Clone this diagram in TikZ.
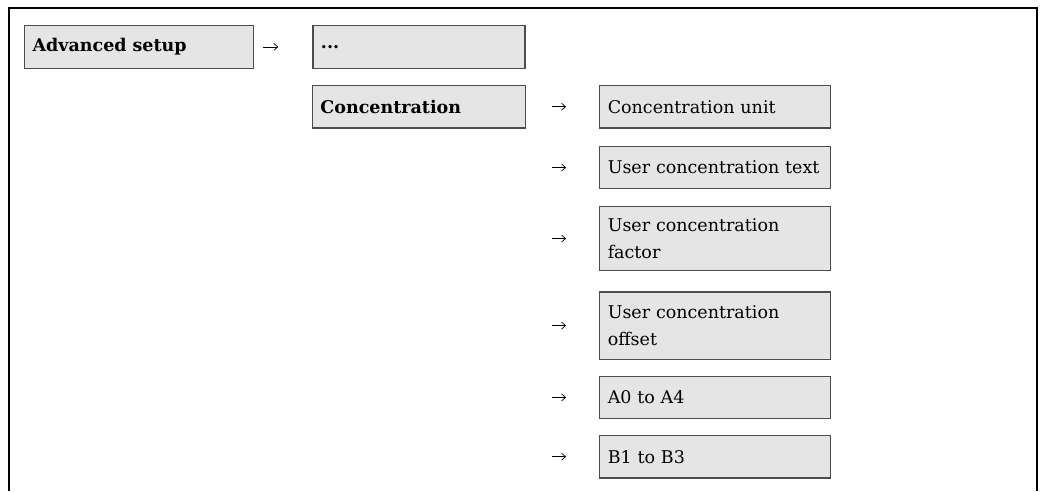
\documentclass[tikz,border=0pt]{standalone}
\usepackage{fontspec}
\setmainfont{DejaVu Serif}
\usepackage{tikz}
\usetikzlibrary{arrows.meta, positioning}

\begin{document}
\begin{tikzpicture}[
        x=1pt, y=1pt,
        node distance=17pt,
        menu/.style={rectangle, draw=black!70, line width=1.3pt, fill=black!10, anchor=north west, inner xsep=8pt, inner ysep=0pt, minimum height=42.5pt, align=left, font=\fontsize{17.5}{27}\selectfont},
        head/.style={menu, font=\fontsize{17.5}{27}\selectfont\bfseries},
        arr/.style={-{Straight Barb[length=4pt, width=7pt]}, line width=0.7pt}
    ]

        \useasboundingbox (0,0) rectangle (1043,-491);

        % --- Frame ---
        \draw[line width=1.3pt] (9,-491) -- (9,-8) -- (1037,-8) -- (1037,-491);

        % --- Left: menu path ---
        \node[head, text width=213pt] (adv) at (24,-25) {Advanced setup};
        \node[head, text width=196pt, anchor=west] (dots) [right=58pt of adv] {...};
        \node[head, text width=197pt, anchor=north] (conc) [below=16pt of dots] {Concentration};

        % --- Right: parameters ---
        \node[menu, text width=215pt, anchor=west] (unit) [right=73pt of conc] {Concentration unit};
        \node[menu, text width=215pt, anchor=north] (utext) [below=of unit] {User concentration text};
        \node[menu, text width=215pt, anchor=north, minimum height=64pt] (ufactor) [below=16.5pt of utext] {User concentration\\factor};
        \node[menu, text width=215pt, anchor=north, minimum height=67.5pt] (uoffset) [below=20pt of ufactor] {User concentration\\offset};
        \node[menu, text width=215pt, anchor=north] (coefA) [below=15.5pt of uoffset] {A0 to A4};
        \node[menu, text width=215pt, anchor=north] (coefB) [below=15.5pt of coefA] {B1 to B3};

        % --- Arrows ---
        \draw[arr, shorten <=9pt, shorten >=34pt] (adv) -- (dots);
        \draw[arr, shorten <=26pt, shorten >=33pt] (conc.east) -- (unit.west);
        \draw[arr, shorten <=26pt, shorten >=33pt] (conc.east |- utext.west) -- (utext.west);
        \draw[arr, shorten <=26pt, shorten >=33pt] (conc.east |- ufactor.west) -- (ufactor.west);
        \draw[arr, shorten <=26pt, shorten >=33pt] (conc.east |- uoffset.west) -- (uoffset.west);
        \draw[arr, shorten <=26pt, shorten >=33pt] (conc.east |- coefA.west) -- (coefA.west);
        \draw[arr, shorten <=26pt, shorten >=33pt] (conc.east |- coefB.west) -- (coefB.west);

    \end{tikzpicture}
\end{document}
